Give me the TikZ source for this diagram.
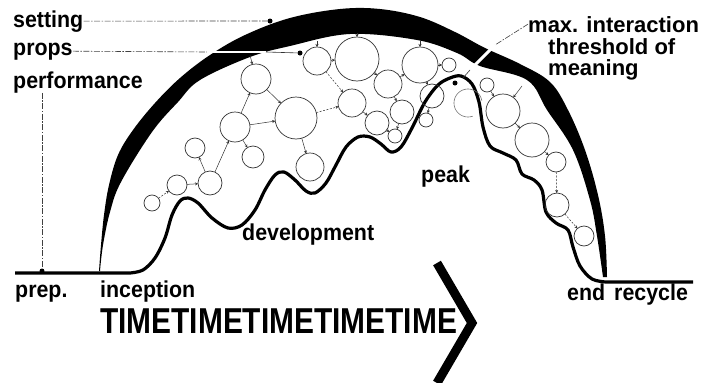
\documentclass[tikz,border=0pt]{standalone}
\usepackage{fontspec}
\setmainfont{Liberation Sans}
\newfontfamily\lblfont{Liberation Sans}[FakeStretch=0.93]
\newfontfamily\timefont{Liberation Sans}[FakeStretch=0.83]
\usetikzlibrary{arrows.meta}

\begin{document}
\begin{tikzpicture}[x=1pt,y=-1pt,
  bub/.style={circle,draw=black!80,line width=0.7pt,inner sep=0pt,outer sep=0pt},
  link/.style={black!80,line width=0.5pt,-{Stealth[length=3pt,width=3pt]}},
  linkd/.style={link,dash pattern=on 2pt off 1.5pt},
  guide/.style={black!75,line width=0.6pt,dash pattern=on 6pt off 1.5pt on 1.5pt off 1.5pt},
  lbl/.style={inner sep=0pt,anchor=base west,font=\lblfont\bfseries\fontsize{23}{23}\selectfont},
  dot/.style={circle,fill=black,inner sep=0pt,minimum size=5pt}]
\useasboundingbox (0,0) rectangle (702,383);

% the band over the top
\fill[black] plot[smooth,tension=0.6] coordinates {(99,271) (101,245) (104,215) (109,185) (118,155) (133,130) (155,103) (180,78) (210,55) (245,35) (290,18) (340,9) (380,9) (420,17) (455,32) (485,48) (520,64) (550,82) (568,110) (585,150) (598,195) (605,236) (607,277)}
  -- plot[smooth,tension=0.6] coordinates {(603,277) (597,236) (590,200) (573,150) (547,110) (527,80) (480,66) (457,53) (417,40) (350,34) (290,46) (250,57) (200,80) (178,102) (152,132) (121,182) (110,212) (103,245) (100,271)} -- cycle;

% baseline and wave
\draw[line width=3.2pt,line join=round] (15,273) -- (130,273)
  -- plot[smooth,tension=0.55] coordinates {(130,273) (143,270) (155,258) (165,238) (172,215) (180,201) (188,198) (198,203) (212,218) (228,228) (242,225) (255,210) (265,190) (275,175) (284,172) (295,180) (306,191) (315,193) (326,183) (336,165) (346,147) (358,137) (370,137) (381,144) (391,152) (401,147) (412,128) (425,102) (438,85) (450,78) (461,76) (472,84) (479,102) (483,127) (490,146) (503,153) (516,160) (522,174) (534,180) (542,190) (546,212) (556,223) (568,230) (573,247) (580,266) (592,279) (606,282)}
  -- (693,282);

% bubbles
\node[bub,minimum size=16pt] (c1) at (152,203) {};
\node[bub,minimum size=20pt] (c2) at (177,185) {};
\node[bub,minimum size=24pt] (c3) at (210,183) {};
\node[bub,minimum size=20pt] (c4) at (195,148) {};
\node[bub,minimum size=30pt] (c5) at (235,127) {};
\node[bub,minimum size=22pt] (c6) at (253,157) {};
\node[bub,minimum size=30pt] (c7) at (256,79) {};
\node[bub,minimum size=42pt] (c8) at (296,118) {};
\node[bub,minimum size=28pt] (c9) at (310,167) {};
\node[bub,minimum size=28pt] (c10) at (317,61) {};
\node[bub,minimum size=44pt] (c11) at (357,59) {};
\node[bub,minimum size=28pt] (c12) at (352,103) {};
\node[bub,minimum size=28pt] (c13) at (388,84) {};
\node[bub,minimum size=36pt] (c14) at (420,65) {};
\node[bub,minimum size=24pt] (c15) at (402,112) {};
\node[bub,minimum size=24pt] (c16) at (377,123) {};
\node[bub,minimum size=14pt] (c17) at (395,136) {};
\node[bub,minimum size=24pt] (c18) at (432,96) {};
\node[bub,minimum size=14pt] (c19) at (426,120) {};
\node[bub,minimum size=14pt] (c20) at (449,65) {};
\node[bub,minimum size=14pt] (c22) at (487,85) {};
\node[bub,minimum size=34pt] (c23) at (503,111) {};
\node[bub,minimum size=34pt] (c24) at (532,140) {};
\node[bub,minimum size=20pt] (c25) at (556,162) {};
\node[bub,minimum size=24pt] (c26) at (557,205) {};
\node[bub,minimum size=20pt] (c27) at (584,236) {};
\draw[black!55,line width=0.6pt] plot[domain=10:290,samples=40] ({468+14*cos(\x)},{103-14*sin(\x)});
\node[dot] (d1) at (455,83) {};

\draw[linkd] (c1) -- (c2);
\draw[link] (c2) -- (c3);
\draw[link] (c3) -- (c4);
\draw[link] (c3) -- (c5);
\draw[link] (c5) -- (c6);
\draw[link] (c5) -- (c7);
\draw[link] (c5) -- (c8);
\draw[link] (c7) -- (c8);
\draw[link] (c8) -- (c9);
\draw[linkd] (c8) -- (c12);
\draw[linkd] (c10) -- (c12);
\draw[link] (c10) -- (c11);
\draw[link] (c11) -- (c13);
\draw[link] (c13) -- (c14);
\draw[link] (c14) -- (c20);
\draw[link] (c12) -- (c16);
\draw[link] (c13) -- (c15);
\draw[link] (c16) -- (c17);
\draw[link] (c15) -- (c17);
\draw[link] (c14) -- (c18);
\draw[link] (c18) -- (c19);
\draw[link] (c22) -- (c23);
\draw[link] (c23) -- (c24);
\draw[link] (c24) -- (c25);
\draw[linkd] (c25) -- (c26);
\draw[linkd] (c26) -- (c27);

\coordinate (b7) at (250,55);
\coordinate (b10) at (317,41);
\coordinate (b11) at (357,33);
\coordinate (b14) at (420,40);
\coordinate (b23) at (522,86);
\draw[link] (b7) -- (c7);
\draw[link] (b10) -- (c10);
\draw[link] (b11) -- (c11);
\draw[link] (b14) -- (c14);
\draw[link] (b23) -- (c23);

% labels
\node[lbl] (set) at (13,27) {setting};
\node[lbl] (props) at (13,55) {props};
\node[lbl] (perf) at (13,88) {performance};
\node[lbl,font=\bfseries\fontsize{22}{22}\selectfont] (max) at (528,32) {max. interaction};
\node[lbl,font=\bfseries\fontsize{22}{22}\selectfont] (thr) at (548,54) {threshold of};
\node[lbl,font=\bfseries\fontsize{22}{22}\selectfont] (mean) at (548,75) {meaning};
\node[lbl] (peak) at (421,182) {peak};
\node[lbl] (dev) at (242,240) {development};
\node[lbl] (prep) at (15,297) {prep.};
\node[lbl] (inc) at (100,297) {inception};
\node[lbl] (end) at (567,300) {end\hspace{9pt}recycle};
\node[lbl,font=\timefont\bfseries\fontsize{36}{36}\selectfont] (time) at (100,333) {TIMETIMETIMETIMETIME};

% pointers
\node[dot] (ds) at (270,21) {};
\node[dot] (dp) at (300,53) {};
\node[dot] (df) at (42,271) {};
\coordinate (p1) at (207,52);
\coordinate (p2) at (266,52);
\coordinate (m1) at (495,45);
\coordinate (m2) at (470,70);
\coordinate (m3) at (463,78);
\draw[guide] (set.east) -- (ds);
\draw[guide] (props.east) -- (p1);
\draw[white,line width=2.5pt] (p1) -- (p2);
\draw[black!80,line width=0.6pt] (p2) -- (dp);
\draw[guide] (df |- perf.south) -- (df);
\draw[guide] (max.west) -- (m1);
\draw[white,line width=3pt] (m1) -- (m2);
\draw[black!80,line width=0.6pt] (m2) -- (m3);

% time chevron
\draw[line width=9pt] (437,263) -- (472,323) -- (437,383);
\end{tikzpicture}
\end{document}
